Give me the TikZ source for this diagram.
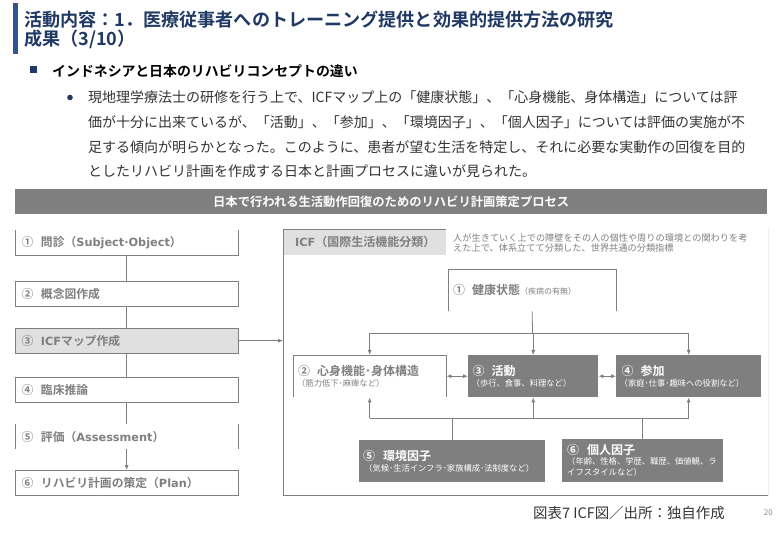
\documentclass[tikz,border=0pt]{standalone}
\usepackage{fontspec}
\setmainfont{Noto Sans CJK JP}
\newfontfamily\bfjp{Noto Sans CJK JP Bold}
\newfontfamily\bflat{DejaVu Sans Bold}
\usetikzlibrary{arrows.meta}
\definecolor{titleblue}{HTML}{1F3864}
\definecolor{barblue}{HTML}{2F5597}
\definecolor{flowgray}{HTML}{7F7F7F}
\definecolor{paleGray}{HTML}{E0E0E0}
\tikzset{
  flowbox/.style={minimum width=223pt,minimum height=25pt,text width=218pt,align=left,anchor=north west,text=flowgray,font=\bfjp\fontsize{11.8}{13}\selectfont,inner sep=0pt},
  darkbox/.style={fill=flowgray,anchor=north west,text=white,align=left,inner sep=0pt},
  whitebox/.style={anchor=north west,text=flowgray,align=left,inner sep=0pt},
  link/.style={draw=flowgray,line width=.8pt},
  linkto/.style={link,-{Latex[length=5pt,width=4pt]}},
  bothlink/.style={link,{Latex[length=5pt,width=4pt]}-{Latex[length=5pt,width=4pt]}},
  body/.style={anchor=west,inner sep=0pt,text=black!80,font=\fontsize{14}{16}\selectfont}
}
\newcommand{\headtxt}[1]{{\bfjp\fontsize{12}{13}\selectfont #1}}
\newcommand{\subtxt}[1]{{\fontsize{8.3}{10}\selectfont #1}}
\newcommand{\lat}[1]{{\bflat\fontsize{11.3}{13}\selectfont #1}}
\begin{document}
\begin{tikzpicture}[x=1pt,y=-1pt]
  \useasboundingbox (0,0) rectangle (780,540);
  % title
  \fill[barblue] (13,3) rectangle (18,54);
  \node[anchor=west,inner sep=0pt,text=titleblue,font=\bfjp\fontsize{18.1}{20}\selectfont] (title1) at (24,19.5) {活動内容：1．医療従事者へのトレーニング提供と効果的提供方法の研究};
  \node[anchor=west,inner sep=0pt,text=titleblue,font=\bfjp\fontsize{18.1}{20}\selectfont] (title2) at (24,39) {成果（3/10）};
  \fill[titleblue] (30,66.5) rectangle (37,73.5);
  \node[anchor=west,inner sep=0pt,font=\bfjp\fontsize{13.9}{15}\selectfont] (sub) at (52,71) {インドネシアと日本のリハビリコンセプトの違い};
  \fill[titleblue] (70,97.5) circle (2.8);
  \node[body] (line1) at (88,97) {現地理学療法士の研修を行う上で、ICFマップ上の「健康状態」、「心身機能、身体構造」については評};
  \node[body] (line2) at (88,122) {価が十分に出来ているが、「活動」、「参加」、「環境因子」、「個人因子」については評価の実施が不};
  \node[body] (line3) at (88,147) {足する傾向が明らかとなった。このように、患者が望む生活を特定し、それに必要な実動作の回復を目的};
  \node[body] (line4) at (88,171) {としたリハビリ計画を作成する日本と計画プロセスに違いが見られた。};
  % banner
  \node[fill=flowgray,anchor=north west,minimum width=752pt,minimum height=25pt,inner sep=0pt,text=white,font=\bfjp\fontsize{12.3}{14}\selectfont] (banner) at (15,189) {日本で行われる生活動作回復のためのリハビリ計画策定プロセス};
  % flow on the left
  \node[flowbox] (a1) at (15,230) {\hspace*{4pt}①\hspace{7.5pt}問診（\lat{Subject·Object}）};
  \node[flowbox] (a2) at (15,281) {\hspace*{4pt}②\hspace{7.5pt}概念図作成};
  \node[flowbox,fill=paleGray] (a3) at (15,328) {\hspace*{4pt}③\hspace{7.5pt}\lat{ICF}マップ作成};
  \node[flowbox] (a4) at (15,377) {\hspace*{4pt}④\hspace{7.5pt}臨床推論};
  \node[flowbox] (a5) at (15,424) {\hspace*{4pt}⑤\hspace{7.5pt}評価（\lat{Assessment}）};
  \node[flowbox] (a6) at (15,470) {\hspace*{4pt}⑥\hspace{7.5pt}リハビリ計画の策定（\lat{Plan}）};
  \draw[link] (a1.north west) -- (a1.south west) -- (a1.south east) -- (a1.north east);
  \draw[link] (a2.south west) rectangle (a2.north east);
  \draw[link] (a3.south west) rectangle (a3.north east);
  \draw[link] (a4.south west) rectangle (a4.north east);
  \draw[link] (a5.north west) -- (a5.south west);
  \draw[link] (a5.north east) -- (a5.south east);
  \draw[link] (a6.south west) rectangle (a6.north east);
  \draw[link] (a1) -- (a2);
  \draw[link] (a2) -- (a3);
  \draw[link] (a3) -- (a4);
  \draw[link] (a4) -- (a5);
  \draw[linkto] (a5) -- (a6);
  % ICF frame
  \node[anchor=north west,minimum width=485pt,minimum height=266pt,inner sep=0pt] (frame) at (283,229) {};
  \node[fill=paleGray,anchor=north west,minimum width=163pt,minimum height=26pt,text width=151pt,align=left,inner sep=0pt,text=flowgray,font=\bfjp\fontsize{12}{13}\selectfont] (head) at (283,229) {\hspace*{6pt}\lat{ICF}（国際生活機能分類）};
  \draw[link] (head.north east) -- (head.north west) -- (frame.south west) -- (frame.south east);
  \draw[black!7,line width=.8pt] (frame.south east) -- (frame.north east);
  \node[anchor=north west,inner sep=0pt,text=flowgray,align=left,font=\fontsize{9.2}{10}\selectfont] (note) at (453,233.5) {人が生きていく上での障壁をその人の個性や周りの環境との関わりを考\\えた上で、体系立てて分類した、世界共通の分類指標};
  \draw[linkto] (a3) -- (a3-|frame.west);
  \node[whitebox,minimum width=168pt,minimum height=42pt,text width=164pt] (n1) at (448,269) {\hspace*{3pt}\headtxt{①\hspace{7pt}健康状態}\subtxt{\fontsize{8}{9}\selectfont （疾病の有無）}};
  \node[whitebox,minimum width=153pt,minimum height=42pt,text width=149pt] (n2) at (293,355) {\hspace*{3pt}\headtxt{②\hspace{7pt}心身機能･身体構造}\\[-1pt]\hspace*{2pt}\subtxt{（筋力低下･麻痺など）}};
  \node[darkbox,minimum width=130pt,minimum height=42pt,text width=127pt] (n3) at (468,355) {\hspace*{3pt}\headtxt{③\hspace{7pt}活動}\\[-1pt]\hspace*{2pt}\subtxt{（歩行、食事、料理など）}};
  \node[darkbox,minimum width=145pt,minimum height=42pt,text width=142pt] (n4) at (616,355) {\hspace*{4pt}\headtxt{④\hspace{7pt}参加}\\[-1pt]\hspace*{2pt}\subtxt{（家庭･仕事･趣味への役割など）}};
  \node[darkbox,minimum width=186pt,minimum height=42pt,text width=182pt] (n5) at (359,440) {\hspace*{2pt}\headtxt{⑤\hspace{8pt}環境因子}\\[-1pt]\hspace*{3pt}\subtxt{（気候･生活インフラ･家族構成･法制度など）}};
  \node[darkbox,minimum width=161pt,minimum height=43pt,text width=157pt] (n6) at (562,439) {\hspace*{3pt}\headtxt{⑥\hspace{8pt}個人因子}\\[-2pt]\hspace*{3pt}\subtxt{（年齢、性格、学歴、職歴、価値観、ラ}\\[-1pt]\hspace*{3pt}\subtxt{イフスタイルなど）}};
  \draw[link] (n1.south west) -- (n1.north west) -- (n1.north east) -- (n1.south east);
  \draw[link] (n2.south west) -- (n2.north west) -- (n2.north east) -- (n2.south east);
  \coordinate (topbus) at (532.5,333);
  \coordinate (lowbus) at (532.5,418);
  \draw[link] (n1.south) -- (topbus);
  \draw[link] (topbus-|n2.south) -- (topbus-|n4.south);
  \draw[linkto] (topbus-|n2.north) -- (n2.north);
  \draw[linkto] (topbus-|n3.north) -- (n3.north);
  \draw[linkto] (topbus-|n4.north) -- (n4.north);
  \draw[bothlink] (n2.east) -- (n3.west);
  \draw[bothlink] (n3.east) -- (n4.west);
  \draw[link] (lowbus-|n2.south) -- (lowbus-|n4.south);
  \draw[linkto] (lowbus-|n2.south) -- (n2.south);
  \draw[linkto] (lowbus-|n3.south) -- (n3.south);
  \draw[linkto] (lowbus-|n4.south) -- (n4.south);
  \draw[link] (n5.north) -- (lowbus-|n5.north);
  \draw[link] (n6.north) -- (lowbus-|n6.north);
  % caption
  \node[anchor=west,inner sep=0pt,text=black!80,font=\fontsize{14.45}{16}\selectfont] (caption) at (533,513) {図表7 ICF図／出所：独自作成};
  \node[anchor=east,inner sep=0pt,text=black!45,font=\fontsize{8}{10}\selectfont] (pageno) at (773,513) {20};
\end{tikzpicture}
\end{document}
